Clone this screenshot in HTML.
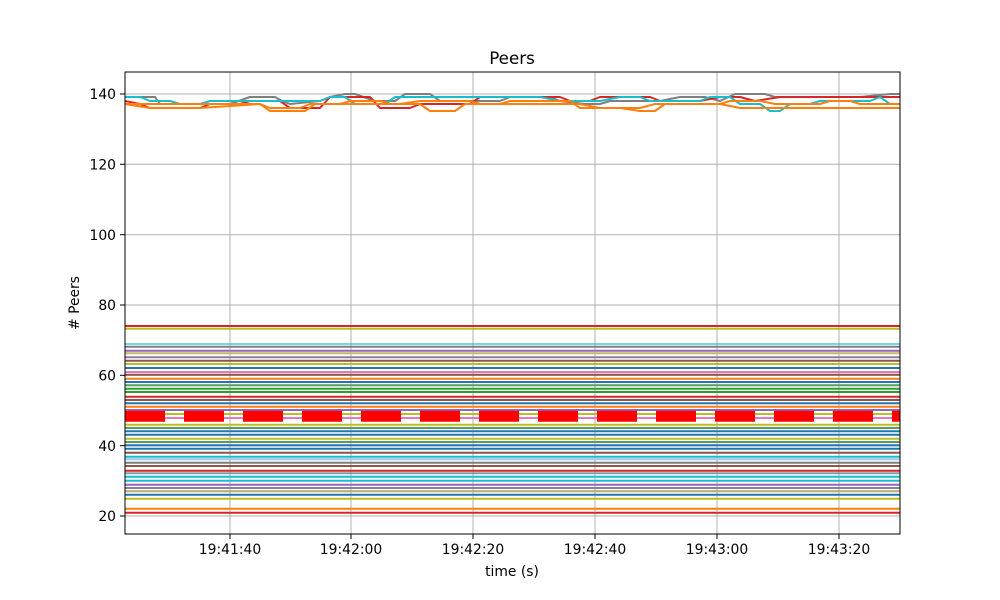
<!DOCTYPE html>
<html><head><meta charset="utf-8"><style>body{margin:0;background:#fff}svg{display:block;font-family:"DejaVu Sans","Liberation Sans",sans-serif}</style></head><body>
<svg width="1000" height="600" xmlns="http://www.w3.org/2000/svg">
<rect width="1000" height="600" fill="#fff"/>
<text x="512" y="64" font-size="16.7" text-anchor="middle">Peers</text>
<g stroke="#b0b0b0" stroke-width="1">
<line x1="230" y1="72" x2="230" y2="534"/><line x1="351" y1="72" x2="351" y2="534"/><line x1="473" y1="72" x2="473" y2="534"/><line x1="595" y1="72" x2="595" y2="534"/><line x1="717" y1="72" x2="717" y2="534"/><line x1="839" y1="72" x2="839" y2="534"/>
<line x1="125" y1="94" x2="900" y2="94"/><line x1="125" y1="164.3" x2="900" y2="164.3"/><line x1="125" y1="234.7" x2="900" y2="234.7"/><line x1="125" y1="305" x2="900" y2="305"/><line x1="125" y1="375.3" x2="900" y2="375.3"/><line x1="125" y1="445.7" x2="900" y2="445.7"/><line x1="125" y1="516" x2="900" y2="516"/>
</g>
<g stroke-width="2" fill="none">
<line x1="125" x2="900" y1="326" y2="326" stroke="#d62728"/>
<line x1="125" x2="900" y1="328.7" y2="328.7" stroke="#bcbd22"/>
<line x1="125" x2="900" y1="344" y2="344" stroke="#17becf" stroke-opacity=".6"/>
<line x1="125" x2="900" y1="346.7" y2="346.7" stroke="#7f7f7f"/>
<line x1="125" x2="900" y1="350.7" y2="350.7" stroke="#9467bd"/>
<line x1="125" x2="900" y1="353.3" y2="353.3" stroke="#c5b76a"/>
<line x1="125" x2="900" y1="357.3" y2="357.3" stroke="#8c7fa0"/>
<line x1="125" x2="900" y1="360.7" y2="360.7" stroke="#8c564b"/>
<line x1="125" x2="900" y1="364" y2="364" stroke="#bcbd22"/>
<line x1="125" x2="900" y1="368" y2="368" stroke="#1f77b4"/>
<line x1="125" x2="900" y1="372" y2="372" stroke="#e377c2"/>
<line x1="125" x2="900" y1="374.7" y2="374.7" stroke="#8c564b"/>
<line x1="125" x2="900" y1="378.7" y2="378.7" stroke="#ff7f0e"/>
<line x1="125" x2="900" y1="382" y2="382" stroke="#1f77b4"/>
<line x1="125" x2="900" y1="385.3" y2="385.3" stroke="#5a9a5a"/>
<line x1="125" x2="900" y1="388.7" y2="388.7" stroke="#2ca02c"/>
<line x1="125" x2="900" y1="392" y2="392" stroke="#2ca02c"/>
<line x1="125" x2="900" y1="396.7" y2="396.7" stroke="#d62728"/>
<line x1="125" x2="900" y1="400" y2="400" stroke="#8c564b"/>
<line x1="125" x2="900" y1="403.3" y2="403.3" stroke="#1f77b4"/>
<line x1="125" x2="900" y1="406.7" y2="406.7" stroke="#ff7f0e"/>
<line x1="125" x2="900" y1="410" y2="410" stroke="#9467bd"/>
<line x1="125" x2="900" y1="414" y2="414" stroke="#bcbd22"/>
<line x1="125" x2="900" y1="418" y2="418" stroke="#e377c2"/>
<line x1="125" x2="900" y1="424.7" y2="424.7" stroke="#bcbd22"/>
<line x1="125" x2="900" y1="428" y2="428" stroke="#5a9a5a"/>
<line x1="125" x2="900" y1="431.3" y2="431.3" stroke="#1f77b4"/>
<line x1="125" x2="900" y1="434.7" y2="434.7" stroke="#1f77b4"/>
<line x1="125" x2="900" y1="438.7" y2="438.7" stroke="#bcbd22"/>
<line x1="125" x2="900" y1="442" y2="442" stroke="#5a9a5a"/>
<line x1="125" x2="900" y1="445.3" y2="445.3" stroke="#1f77b4"/>
<line x1="125" x2="900" y1="448.7" y2="448.7" stroke="#1f77b4"/>
<line x1="125" x2="900" y1="452.7" y2="452.7" stroke="#8c564b"/>
<line x1="125" x2="900" y1="456.7" y2="456.7" stroke="#17becf"/>
<line x1="125" x2="900" y1="459.3" y2="459.3" stroke="#9ec9e2"/>
<line x1="125" x2="900" y1="462.7" y2="462.7" stroke="#7f7f7f"/>
<line x1="125" x2="900" y1="466" y2="466" stroke="#8c564b"/>
<line x1="125" x2="900" y1="470.7" y2="470.7" stroke="#d62728"/>
<line x1="125" x2="900" y1="473.3" y2="473.3" stroke="#7f9fa8"/>
<line x1="125" x2="900" y1="476.7" y2="476.7" stroke="#17becf"/>
<line x1="125" x2="900" y1="480.7" y2="480.7" stroke="#17becf"/>
<line x1="125" x2="900" y1="484.7" y2="484.7" stroke="#9467bd"/>
<line x1="125" x2="900" y1="488" y2="488" stroke="#8c7f9f"/>
<line x1="125" x2="900" y1="491.3" y2="491.3" stroke="#bca86a"/>
<line x1="125" x2="900" y1="494.7" y2="494.7" stroke="#1f77b4"/>
<line x1="125" x2="900" y1="498.7" y2="498.7" stroke="#bcbd22"/>
<line x1="125" x2="900" y1="508.7" y2="508.7" stroke="#ff7f0e"/>
<line x1="125" x2="900" y1="512.7" y2="512.7" stroke="#d62728"/>
<line x1="125" x2="900" y1="416.3" y2="416.3" stroke="#ff0000" stroke-width="11" stroke-dasharray="40,19"/>
</g>
<g stroke-width="2" fill="none" stroke-linejoin="round">
<polyline stroke="#7f7f7f" points="125,97 155,97 160,104 230,104 250,97 275,97 282,101 290,104 320,101 330,97 345,94 355,94 375,101 395,101 405,94 430,94 440,101 500,101 510,97 550,97 560,101 585,104 600,104 610,101 660,101 680,97 705,97 720,101 735,94 765,94 775,97 860,97 890,94 900,94"/>
<polyline stroke="#d62728" points="125,101 140,104 150,108 200,108 210,104 240,104 250,101 280,101 290,108 320,108 330,97 370,97 380,108 410,108 420,104 470,104 480,97 560,97 570,101 590,101 600,97 650,97 660,101 700,101 720,97 740,97 755,101 780,97 900,97"/>
<polyline stroke="#17becf" points="125,97 140,97 150,101 170,101 180,104 200,104 210,101 240,101 255,101 320,101 330,97 345,97 355,104 385,104 395,97 440,97 450,97 510,97 540,97 560,101 600,101 620,97 640,97 650,101 700,101 710,97 730,97 740,104 760,104 770,111 780,111 790,104 810,104 820,101 870,101 880,97 890,104 900,104"/>
<polyline stroke="#ff7f0e" points="125,104 150,108 200,108 260,104 270,108 300,108 310,104 340,104 350,101 380,101 390,104 420,104 430,111 455,111 465,104 500,104 510,101 560,101 570,101 580,108 620,108 640,111 655,111 665,104 720,104 730,101 760,101 775,104 820,104 830,101 850,101 860,104 900,104"/>
<polyline stroke="#ff7f0e" points="125,104 200,104 260,104 270,111 305,111 315,104 400,104 420,101 470,101 480,104 520,104 530,104 580,104 600,108 640,108 655,104 700,104 720,104 740,108 860,108 900,108"/>
</g>
<rect x="125" y="72" width="775" height="462" fill="none" stroke="#000" stroke-width="1"/>
<g stroke="#000"><line x1="120" y1="94" x2="125" y2="94"/><line x1="120" y1="164.3" x2="125" y2="164.3"/><line x1="120" y1="234.7" x2="125" y2="234.7"/><line x1="120" y1="305" x2="125" y2="305"/><line x1="120" y1="375.3" x2="125" y2="375.3"/><line x1="120" y1="445.7" x2="125" y2="445.7"/><line x1="120" y1="516" x2="125" y2="516"/>
<line x1="230" y1="534" x2="230" y2="539"/><line x1="351" y1="534" x2="351" y2="539"/><line x1="473" y1="534" x2="473" y2="539"/><line x1="595" y1="534" x2="595" y2="539"/><line x1="717" y1="534" x2="717" y2="539"/><line x1="839" y1="534" x2="839" y2="539"/></g>
<g font-size="13.9" text-anchor="end"><text x="116" y="99">140</text><text x="116" y="169.5">120</text><text x="116" y="240">100</text><text x="116" y="310">80</text><text x="116" y="380.5">60</text><text x="116" y="451">40</text><text x="116" y="521">20</text></g>
<g font-size="13.9" text-anchor="middle"><text x="230" y="554">19:41:40</text><text x="351" y="554">19:42:00</text><text x="473" y="554">19:42:20</text><text x="595" y="554">19:42:40</text><text x="717" y="554">19:43:00</text><text x="839" y="554">19:43:20</text></g>
<text x="512" y="576" font-size="13.9" text-anchor="middle">time (s)</text>
<text transform="translate(79,303) rotate(-90)" font-size="13.9" text-anchor="middle"># Peers</text>
</svg>
</body></html>
